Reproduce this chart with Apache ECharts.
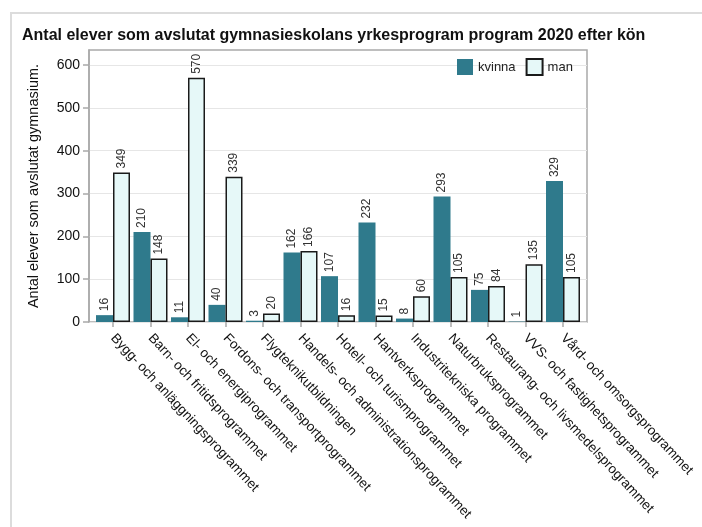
<!DOCTYPE html>
<html>
<head>
<meta charset="utf-8">
<script src="https://cdn.jsdelivr.net/npm/echarts@6/dist/echarts.min.js"></script>
<style>
  html, body { margin: 0; padding: 0; background: #fff; }
  #chart { width: 702px; height: 527px; }
</style>
</head>
<body>
<div id="chart"></div>
<script>
// data
const categories = [
  'Bygg- och anläggningsprogrammet',
  'Barn- och fritidsprogrammet',
  'El- och energiprogrammet',
  'Fordons- och transportprogrammet',
  'Flygteknikutbildningen',
  'Handels- och administrationsprogrammet',
  'Hotell- och turismprogrammet',
  'Hantverksprogrammet',
  'Industritekniska programmet',
  'Naturbruksprogrammet',
  'Restaurang- och livsmedelsprogrammet',
  'VVS- och fastighetsprogrammet',
  'Vård- och omsorgsprogrammet'
]
const kvinna = [16, 210, 11, 40, 3, 162, 107, 232, 8, 293, 75, 1, 329]
const man = [349, 148, 570, 339, 20, 166, 16, 15, 60, 105, 84, 135, 105]
const yTicks = [0, 100, 200, 300, 400, 500, 600]
const yMax = 635

const font = '"Liberation Sans", Arial, sans-serif'

const chart = echarts.init(document.getElementById('chart'))

const barLabel = {
  show: true,
  position: 'top',
  rotate: 90,
  align: 'left',
  verticalAlign: 'middle',
  distance: 4,
  fontSize: 12,
  fontFamily: font,
  color: '#333'
}

chart.setOption({
  animation: false,
  title: {
    text: 'Antal elever som avslutat gymnasieskolans yrkesprogram program 2020 efter kön',
    left: 17,
    top: 23,
    textStyle: { fontSize: 16, fontWeight: 'bold', fontFamily: font, color: '#111' }
  },
  legend: {
    data: ['kvinna', 'man'],
    left: 452,
    top: 53,
    itemWidth: 16,
    itemHeight: 16,
    itemGap: 10,
    icon: 'rect',
    textStyle: { fontSize: 13, fontFamily: font, color: '#222' }
  },
  graphic: [
    // outer figure frame
    {
      type: 'polyline',
      shape: { points: [[11, 527], [11, 13], [702, 13]] },
      style: { stroke: '#dcdcdc', lineWidth: 2, fill: null },
      silent: true
    }
  ],
  grid: [
    // frame / value scale
    { left: 89, right: 115, top: 50, bottom: 205, show: true, borderColor: '#a9a9a9', borderWidth: 1.5 },
    // bars
    { left: 94.25, right: 120.25, top: 50, bottom: 205 }
  ],
  xAxis: [
    { type: 'value', gridIndex: 0, show: false, min: 0, max: 1 },
    {
      type: 'category',
      gridIndex: 1,
      data: categories,
      axisLine: { show: false },
      axisTick: { show: true, alignWithLabel: true, length: 5, lineStyle: { color: '#a9a9a9', width: 1.5 } },
      axisLabel: {
        interval: 0,
        rotate: -47,
        margin: 14,
        fontSize: 13.5,
        fontFamily: font,
        color: '#111'
      }
    }
  ],
  yAxis: [
    {
      type: 'value',
      gridIndex: 0,
      min: 0,
      max: yMax,
      interval: 100,
      name: 'Antal elever som avslutat gymnasium.',
      nameLocation: 'middle',
      nameGap: 48,
      nameTextStyle: { fontSize: 14.5, fontFamily: font, color: '#111' },
      axisLine: { show: true, lineStyle: { color: '#a9a9a9', width: 1.5 } },
      axisTick: { show: true, length: 6, customValues: yTicks, lineStyle: { color: '#a9a9a9', width: 1.5 } },
      axisLabel: { customValues: yTicks, margin: 9, fontSize: 14, fontFamily: font, color: '#111' },
      splitLine: { show: true, lineStyle: { color: '#e6e6e6', width: 1 } }
    },
    { type: 'value', gridIndex: 1, min: 0, max: yMax, show: false, splitLine: { show: false } }
  ],
  series: [
    {
      name: 'kvinna',
      type: 'bar',
      xAxisIndex: 1,
      yAxisIndex: 1,
      data: kvinna,
      barWidth: 17,
      barGap: '0%',
      itemStyle: { color: '#2f7a8c' },
      label: barLabel
    },
    {
      name: 'man',
      type: 'bar',
      xAxisIndex: 1,
      yAxisIndex: 1,
      data: man,
      barWidth: 17,
      barGap: '0%',
      itemStyle: { color: '#e6f8f8', borderColor: '#1a1a1a', borderWidth: 1.5 },
      label: barLabel
    }
  ]
})
</script>
</body>
</html>
